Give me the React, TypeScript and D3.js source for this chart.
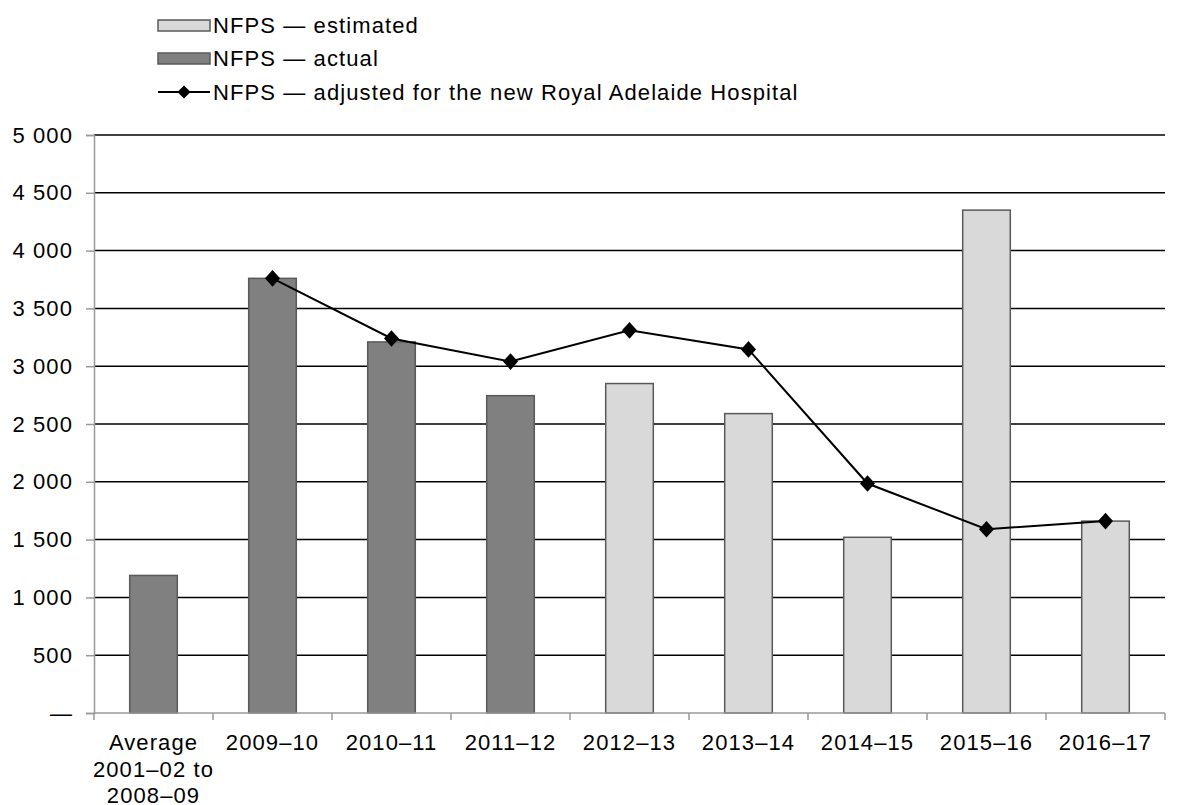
import React, { useEffect, useRef } from "react";
import * as d3 from "d3";

const categories = [
  "Average\n2001–02 to\n2008–09",
  "2009–10",
  "2010–11",
  "2011–12",
  "2012–13",
  "2013–14",
  "2014–15",
  "2015–16",
  "2016–17",
];
const barValues = [1190, 3760, 3210, 2745, 2850, 2590, 1520, 4350, 1660];
const barKind = ["actual", "actual", "actual", "actual", "estimated", "estimated", "estimated", "estimated", "estimated"];
const adjustedValues = [null, 3760, 3240, 3040, 3310, 3145, 1985, 1590, 1660];
const yTicks = [0, 500, 1000, 1500, 2000, 2500, 3000, 3500, 4000, 4500, 5000];
const legendLabels = [
  "NFPS — estimated",
  "NFPS — actual",
  "NFPS — adjusted for the new Royal Adelaide Hospital",
];

const FONT = "'Liberation Sans', Arial, sans-serif";
const FS = 22;
const LS = 1.1;

const Chart = () => {
  const ref = useRef<SVGSVGElement | null>(null);

  useEffect(() => {
    draw();
  }, []);

  const draw = () => {
    const width = 1180;
    const height = 805;
    const margin = { top: 135, right: 15, bottom: 92, left: 94 };

    const svg = d3.select(ref.current);
    svg.selectAll("*").remove();
    svg.attr("width", width).attr("height", height);

    const x = d3
      .scaleBand()
      .domain(categories)
      .range([margin.left, width - margin.right])
      .paddingInner(0.6)
      .paddingOuter(0.3);

    const y = d3
      .scaleLinear()
      .domain([0, 5000])
      .range([height - margin.bottom, margin.top]);

    const fmt = d3.formatLocale({ decimal: ".", thousands: " ", grouping: [3], currency: ["", ""] }).format(",");

    // gridlines
    svg
      .append("g")
      .selectAll("line")
      .data(yTicks.filter((d) => d > 0))
      .enter()
      .append("line")
      .attr("x1", margin.left)
      .attr("x2", width - margin.right)
      .attr("y1", (d) => y(d))
      .attr("y2", (d) => y(d))
      .attr("stroke", "#000")
      .attr("stroke-width", 1.5);

    // y axis
    const yAxis = svg
      .append("g")
      .attr("transform", `translate(${margin.left},0)`)
      .call(
        d3
          .axisLeft(y)
          .tickValues(yTicks)
          .tickSize(8)
          .tickPadding(13)
          .tickFormat((d) => (d === 0 ? "—" : fmt(d as number)))
      );
    yAxis.select(".domain").attr("stroke", "#999").attr("stroke-width", 1.5);
    yAxis.selectAll(".tick line").attr("stroke", "#999").attr("stroke-width", 1.5);
    yAxis
      .selectAll("text")
      .attr("font-family", FONT)
      .attr("font-size", FS)
      .attr("letter-spacing", LS)
      .attr("fill", "#000");

    // bars
    svg
      .append("g")
      .selectAll("rect")
      .data(barValues)
      .enter()
      .append("rect")
      .attr("x", (d, i) => x(categories[i])!)
      .attr("y", (d) => y(d))
      .attr("width", x.bandwidth())
      .attr("height", (d) => y(0) - y(d))
      .attr("fill", (d, i) => (barKind[i] === "actual" ? "#808080" : "#d9d9d9"))
      .attr("stroke", "#595959")
      .attr("stroke-width", 1.5);

    // x axis
    const boundaries = d3.range(categories.length + 1).map((i) => margin.left + i * x.step());
    const xg = svg.append("g");
    xg.append("line")
      .attr("x1", margin.left)
      .attr("x2", width - margin.right)
      .attr("y1", y(0))
      .attr("y2", y(0))
      .attr("stroke", "#999")
      .attr("stroke-width", 1.5);
    xg.selectAll("line.tk")
      .data(boundaries)
      .enter()
      .append("line")
      .attr("class", "tk")
      .attr("x1", (d) => d)
      .attr("x2", (d) => d)
      .attr("y1", y(0))
      .attr("y2", y(0) + 7)
      .attr("stroke", "#999")
      .attr("stroke-width", 1.5);
    const labels = xg
      .selectAll("text")
      .data(categories)
      .enter()
      .append("text")
      .attr("x", (d) => x(d)! + x.bandwidth() / 2)
      .attr("y", y(0) + 37)
      .attr("text-anchor", "middle")
      .attr("font-family", FONT)
      .attr("font-size", FS)
      .attr("letter-spacing", LS)
      .attr("fill", "#000");
    labels
      .selectAll("tspan")
      .data((d) => d.split("\n"))
      .enter()
      .append("tspan")
      .attr("x", function () {
        return (this.parentNode as SVGTextElement).getAttribute("x");
      })
      .attr("dy", (d, i) => (i === 0 ? 0 : 26.5))
      .text((d) => d);

    // adjusted line
    const pts = adjustedValues
      .map((v, i) => ({ v, c: categories[i] }))
      .filter((p) => p.v !== null) as { v: number; c: string }[];
    const line = d3
      .line<{ v: number; c: string }>()
      .x((d) => x(d.c)! + x.bandwidth() / 2)
      .y((d) => y(d.v));
    svg
      .append("path")
      .datum(pts)
      .attr("d", line)
      .attr("fill", "none")
      .attr("stroke", "#000")
      .attr("stroke-width", 2);
    const diamond = d3.symbol().type(d3.symbolDiamond2).size(160);
    svg
      .append("g")
      .selectAll("path")
      .data(pts)
      .enter()
      .append("path")
      .attr("d", diamond)
      .attr("transform", (d) => `translate(${x(d.c)! + x.bandwidth() / 2},${y(d.v)}) scale(0.95,1.05)`)
      .attr("fill", "#000");

    // legend
    const lg = svg.append("g");
    const rowY = [25, 58, 92];
    const sx = 158;
    const sw = 52;
    lg.append("rect")
      .attr("x", sx)
      .attr("y", rowY[0] - 5)
      .attr("width", sw)
      .attr("height", 11)
      .attr("fill", "#d9d9d9")
      .attr("stroke", "#595959")
      .attr("stroke-width", 1.5);
    lg.append("rect")
      .attr("x", sx)
      .attr("y", rowY[1] - 5)
      .attr("width", sw)
      .attr("height", 11)
      .attr("fill", "#808080")
      .attr("stroke", "#595959")
      .attr("stroke-width", 1.5);
    lg.append("line")
      .attr("x1", sx)
      .attr("x2", sx + sw)
      .attr("y1", rowY[2])
      .attr("y2", rowY[2])
      .attr("stroke", "#000")
      .attr("stroke-width", 2);
    lg.append("path")
      .attr("d", d3.symbol().type(d3.symbolDiamond2).size(110))
      .attr("transform", `translate(${sx + sw / 2},${rowY[2]})`)
      .attr("fill", "#000");
    lg.selectAll("text")
      .data(legendLabels)
      .enter()
      .append("text")
      .attr("x", sx + sw + 3)
      .attr("y", (d, i) => rowY[i])
      .attr("dy", "0.35em")
      .attr("font-family", FONT)
      .attr("font-size", FS)
      .attr("letter-spacing", LS)
      .attr("fill", "#000")
      .text((d) => d);
  };

  return <svg ref={ref}></svg>;
};

export default function App() {
  return (
    <div style={{ position: "absolute", left: 0, top: 0, background: "#fff" }}>
      <Chart />
    </div>
  );
}
